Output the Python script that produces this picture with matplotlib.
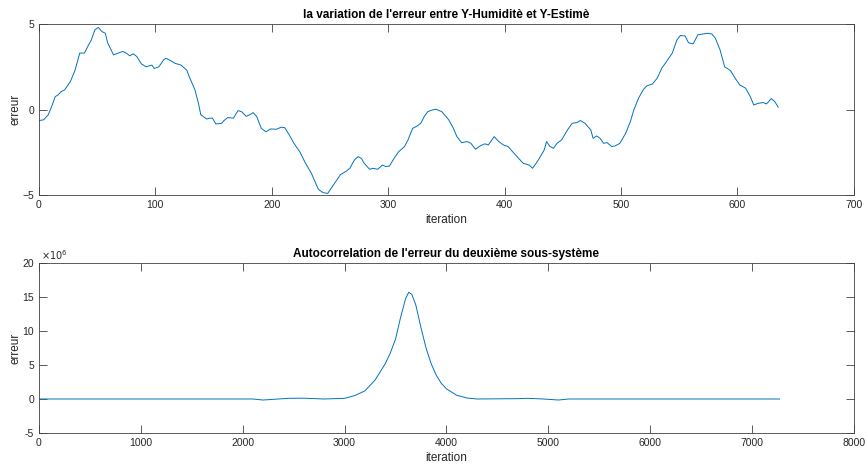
import matplotlib
matplotlib.use("Agg")
import matplotlib.pyplot as plt
from matplotlib.ticker import FuncFormatter

# error between Y-Humidite and Y-Estime
err_iter = [0, 4, 8, 11, 14, 16.5, 19, 22, 27, 31, 35, 39, 42, 45, 48, 51, 54, 57,
            59, 64, 68, 72, 75, 78, 81, 84, 88, 92, 97, 99, 103, 107, 109, 112, 117,
            122, 127, 129, 134, 137, 139, 144, 147, 149, 152, 157, 159, 162, 167, 171,
            174, 178, 181, 184, 187, 191, 195, 199, 204, 208, 211, 215, 219, 224, 229,
            234, 237, 240, 244, 248, 251, 255, 259, 264, 267, 271, 274, 277, 279, 284,
            287, 291, 295, 298, 301, 305, 309, 314, 317, 321, 325, 328, 331, 334, 338,
            341, 346, 352, 356, 359, 363, 368, 371, 375, 379, 383, 386, 391, 395, 399,
            403, 408, 412, 416, 421, 424, 426, 429, 434, 436, 439, 442, 445, 449, 454,
            458, 462, 465, 469, 474, 476, 479, 482, 485, 488, 492, 495, 499, 504, 508,
            511, 515, 519, 522, 527, 531, 535, 539, 544, 548, 551, 555, 558, 562, 566,
            569, 574, 578, 581, 585, 589, 594, 598, 602, 607, 611, 614, 618, 622, 625,
            629, 632, 635]
err_val = [-0.64, -0.6, -0.3, 0.2, 0.76, 0.86, 1.05, 1.15, 1.64, 2.3, 3.3, 3.3, 3.7,
           4.07, 4.66, 4.8, 4.56, 4.46, 3.9, 3.2, 3.3, 3.4, 3.3, 3.14, 3.26, 3.1, 2.67,
           2.5, 2.6, 2.4, 2.5, 2.9, 3.0, 2.9, 2.7, 2.6, 2.3, 1.93, 1.15, 0.37, -0.3,
           -0.55, -0.5, -0.5, -0.84, -0.8, -0.64, -0.47, -0.5, -0.06, -0.12, -0.4, -0.3,
           -0.18, -0.4, -1.1, -1.3, -1.13, -1.15, -1.03, -1.05, -1.48, -1.97, -2.46,
           -3.14, -3.72, -4.2, -4.66, -4.85, -4.9, -4.6, -4.2, -3.8, -3.6, -3.43, -2.94,
           -2.75, -2.85, -3.1, -3.49, -3.43, -3.49, -3.24, -3.33, -3.3, -2.85, -2.46,
           -2.16, -1.77, -1.1, -0.95, -0.8, -0.4, -0.12, -0.02, 0.02, -0.12, -0.6, -1.1,
           -1.58, -1.93, -1.87, -1.97, -2.32, -2.12, -2.0, -2.07, -1.58, -1.87, -2.07,
           -2.16, -2.55, -2.85, -3.14, -3.24, -3.43, -3.24, -2.94, -2.36, -1.87, -2.16,
           -2.26, -1.97, -1.77, -1.19, -0.8, -0.76, -0.64, -0.8, -1.19, -1.68, -1.54,
           -1.68, -1.97, -1.93, -2.16, -2.12, -1.97, -1.38, -0.7, -0.02, 0.66, 1.15,
           1.38, 1.5, 1.83, 2.42, 2.8, 3.3, 4.07, 4.33, 4.3, 3.9, 3.84, 4.37, 4.4, 4.46,
           4.42, 4.17, 3.5, 2.5, 2.28, 1.83, 1.44, 1.25, 0.76, 0.27, 0.37, 0.41, 0.33,
           0.64, 0.47, 0.14]

# autocorrelation of the error (values in millions)
ac_iter = [0, 2100, 2200, 2300, 2450, 2600, 2800, 3000, 3100, 3200, 3300, 3400, 3450,
           3500, 3550, 3600, 3630, 3660, 3700, 3750, 3800, 3850, 3900, 3950, 4000, 4100,
           4200, 4300, 4700, 4800, 4950, 5100, 5200, 7270]
ac_val = [0, 0, -0.15, -0.05, 0.1, 0.12, 0.0, 0.1, 0.5, 1.2, 2.8, 5.2, 6.8, 8.8, 12.0,
          14.8, 15.7, 15.4, 13.8, 10.5, 7.5, 5.2, 3.5, 2.3, 1.5, 0.55, 0.15, 0.0, 0.05,
          0.1, 0.0, -0.15, 0.0, 0.0]

line_color = "#0072BD"
axis_color = "0.25"
text_color = "0.15"
plt.rcParams["font.family"] = ["Liberation Sans", "DejaVu Sans"]


def style_axes(ax):
    ax.tick_params(direction="in", length=6, top=True, right=True,
                   colors=axis_color, labelsize=7.5, labelcolor=text_color, width=0.6)
    for sp in ax.spines.values():
        sp.set_color(axis_color)
        sp.set_linewidth(0.6)
    ax.set_xlabel("iteration", fontsize=8.5, color=text_color, labelpad=3)
    ax.set_ylabel("erreur", fontsize=8.5, color=text_color)
    ax.yaxis.set_label_coords(-0.021, 0.5)


fig = plt.figure(figsize=(8.66, 4.68), dpi=100)

ax1 = fig.add_axes([0.045, 0.583, 0.941, 0.3657])
ax1.plot(err_iter, err_val, color=line_color, linewidth=0.7)
ax1.set_xlim(0, 700)
ax1.set_ylim(-5, 5)
ax1.set_xticks(range(0, 701, 100))
ax1.set_yticks([-5, 0, 5])
ax1.set_title("la variation de l'erreur entre Y-Humiditè et Y-Estimè",
              fontsize=8.5, fontweight="bold", pad=4)
style_axes(ax1)

ax2 = fig.add_axes([0.045, 0.0748, 0.941, 0.3632])
ac_scaled = [v * 1e6 for v in ac_val]
ax2.plot(ac_iter, ac_scaled, color=line_color, linewidth=0.7)
ax2.set_xlim(0, 8000)
ax2.set_ylim(-5e6, 20e6)
ax2.set_xticks(range(0, 8001, 1000))
ax2.set_yticks([-5e6, 0, 5e6, 10e6, 15e6, 20e6])
ax2.yaxis.set_major_formatter(FuncFormatter(lambda v, p: f"{v / 1e6:g}"))
ax2.text(0.002, 1.008, r"$\times10^6$", transform=ax2.transAxes, fontsize=7,
         color=text_color, ha="left", va="bottom")
ax2.set_title("Autocorrelation de l'erreur du deuxième sous-système",
              fontsize=8.5, fontweight="bold", pad=4)
style_axes(ax2)

fig.savefig("out.png", dpi=100, facecolor="white")
